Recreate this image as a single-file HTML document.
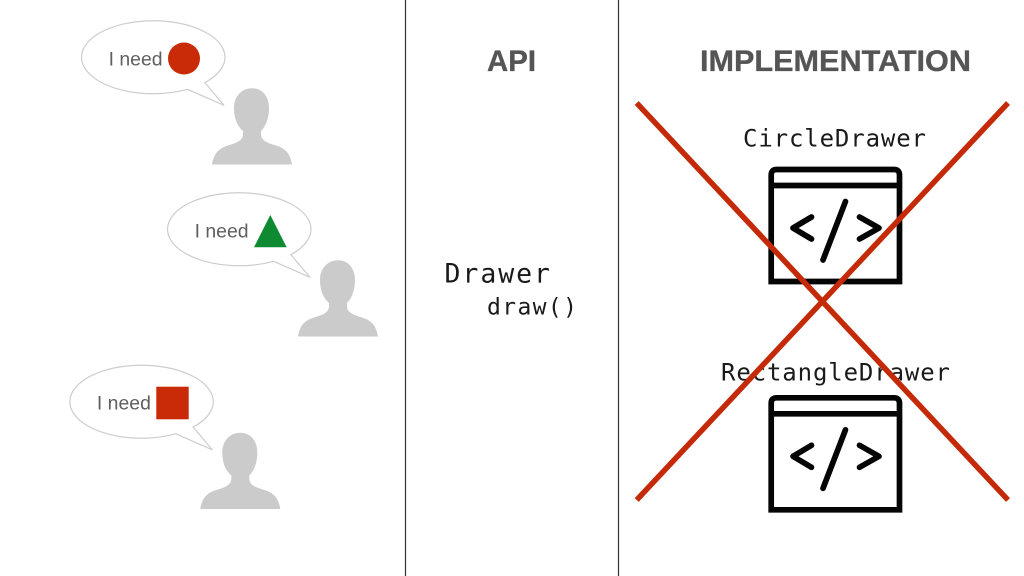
<!DOCTYPE html>
<html>
<head>
<meta charset="utf-8">
<style>
html,body{margin:0;padding:0;background:#fff;}
svg{display:block;}
.need{font-family:"Liberation Sans",sans-serif;font-size:19.5px;fill:#5f5f5f;}
.title{font-family:"Liberation Sans",sans-serif;font-size:27px;font-weight:bold;fill:#555;stroke:#555;stroke-width:.3px;}
.mono{font-family:"DejaVu Sans Mono","Liberation Mono",monospace;fill:#1a1a1a;}
</style>
</head>
<body>
<svg width="1024" height="576" viewBox="0 0 1024 576" xmlns="http://www.w3.org/2000/svg">
<rect width="1024" height="576" fill="#fff"/>
<line x1="405.5" y1="0" x2="405.5" y2="576" stroke="#333" stroke-width="1.2"/>
<line x1="618.5" y1="0" x2="618.5" y2="576" stroke="#333" stroke-width="1.2"/>

<defs>
<g id="speaker">
<path d="M187.5 89.3 A71.7 36.5 0 1 1 204.8 82.6 L224 105.3 Z" fill="#fff" stroke="#cdcdcd" stroke-width="1.2" stroke-linejoin="miter"/>
<path d="M212 164.5 C214 152 220 148 228 145.5 C236 143 243 141 243 134 L243 131 C237 126 234 118 234 108 C234 96 242 88.3 252 88.3 C262 88.3 269 96 269 108 C269 118 266 126 261 131 L261 134 C261 141 268 143 276 145.5 C284 148 290 152 292 164.5 Z" fill="#cbcbcb"/>
</g>
<g id="codeicon">
<path d="M771.2 281.5 L771.2 175 Q771.2 169.5 776.7 169.5 L894 169.5 Q899.5 169.5 899.5 175 L899.5 281.5 Z" fill="none" stroke="#050505" stroke-width="5.7"/>
<line x1="770" y1="185.5" x2="900" y2="185.5" stroke="#050505" stroke-width="5.7"/>
<path d="M811.5 217 L793 228 L811.5 239 M859.5 217 L879 228 L859.5 239 M845.5 201.5 L823 260" fill="none" stroke="#050505" stroke-width="5.7" stroke-linecap="round" stroke-linejoin="round"/>
</g>
</defs>

<use href="#speaker"/>
<use href="#speaker" transform="translate(86 172)"/>
<use href="#speaker" transform="translate(-11.7 344.5)"/>

<text class="need" x="108.6" y="65.5" textLength="54" lengthAdjust="spacingAndGlyphs">I need</text>
<text class="need" x="194.6" y="237.5" textLength="54" lengthAdjust="spacingAndGlyphs">I need</text>
<text class="need" x="96.9" y="409.5" textLength="54" lengthAdjust="spacingAndGlyphs">I need</text>

<circle cx="184" cy="58.5" r="16" fill="#c92a08"/>
<polygon points="270.3,215 254,247.3 286.7,247.3" fill="#0e8a32"/>
<rect x="156.3" y="386.7" width="32.4" height="32.6" fill="#c92a08"/>

<text class="title" transform="translate(487 71) scale(1 1.08)" x="0" y="0" textLength="49" lengthAdjust="spacingAndGlyphs">API</text>
<text class="title" transform="translate(700 71) scale(1 1.08)" x="0" y="0" textLength="271" lengthAdjust="spacingAndGlyphs">IMPLEMENTATION</text>

<text class="mono" x="444.5" y="282.7" font-size="26.5" textLength="105.5" lengthAdjust="spacing">Drawer</text>
<text class="mono" x="487" y="314.5" font-size="23" textLength="90" lengthAdjust="spacing">draw()</text>
<text class="mono" x="743" y="146.5" font-size="24" textLength="183" lengthAdjust="spacing">CircleDrawer</text>
<text class="mono" x="721" y="380.5" font-size="24" textLength="229" lengthAdjust="spacing">RectangleDrawer</text>

<use href="#codeicon"/>
<use href="#codeicon" transform="translate(0 228.3)"/>

<line x1="636.7" y1="103" x2="1008" y2="500" stroke="#c42a08" stroke-width="5.5"/>
<line x1="1008" y1="103" x2="636.7" y2="500" stroke="#c42a08" stroke-width="5.5"/>
</svg>
</body>
</html>
